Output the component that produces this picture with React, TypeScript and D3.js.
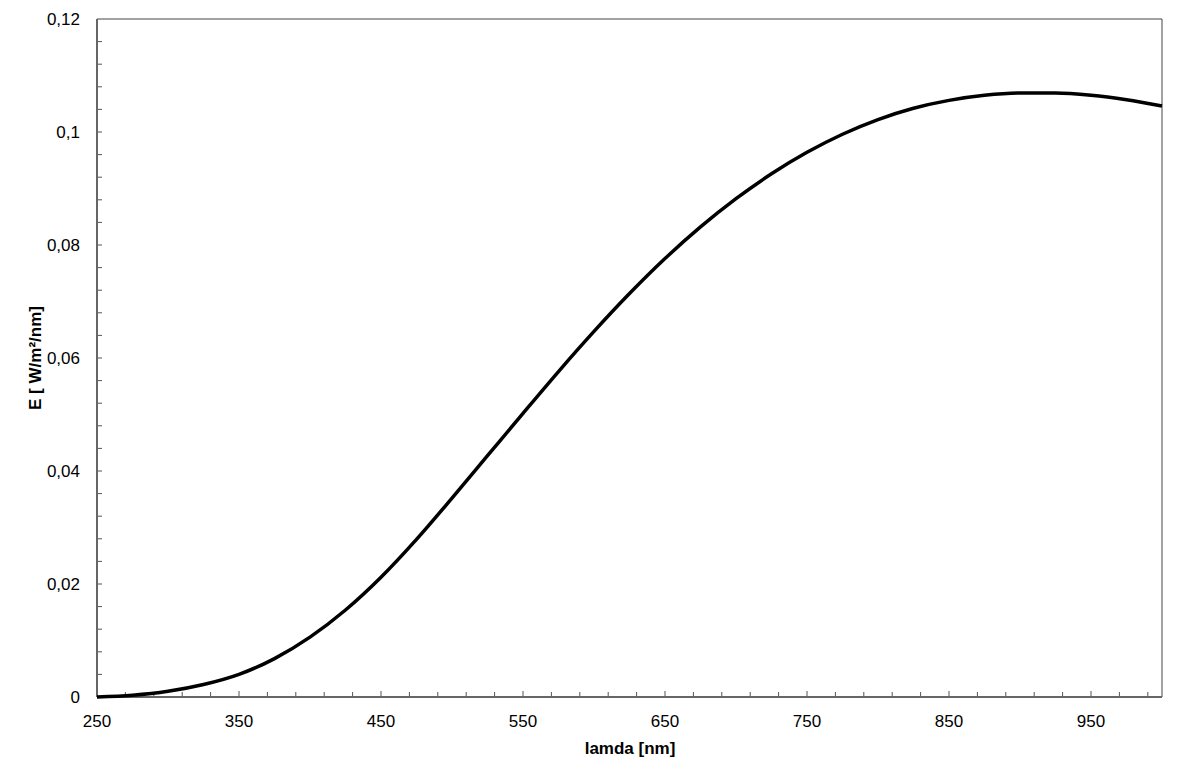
import React from "react";
import * as d3 from "d3";

const wavelengths = [250, 275, 300, 325, 350, 375, 400, 425, 450, 475, 500, 525, 550, 575, 600, 625, 650, 675, 700, 725, 750, 775, 800, 825, 850, 875, 900, 925, 950, 975, 1000];
const irradiance = [0, 0.0003, 0.001, 0.0022, 0.004, 0.0068, 0.0106, 0.0154, 0.0212, 0.0279, 0.0352, 0.0427, 0.0502, 0.0576, 0.0647, 0.0714, 0.0776, 0.0832, 0.0882, 0.0926, 0.0964, 0.0996, 0.1022, 0.1042, 0.1056, 0.1065, 0.1069, 0.1069, 0.1065, 0.1057, 0.1046];
const xTickLabels = [250, 350, 450, 550, 650, 750, 850, 950];
const yTickLabels = [0, 0.02, 0.04, 0.06, 0.08, 0.1, 0.12];

const W = 1200, H = 776;
const L = 97, R = 1162, T = 19, B = 697;

export default function App() {
  const x = d3.scaleLinear().domain([250, 1000]).range([L, R]);
  const y = d3.scaleLinear().domain([0, 0.12]).range([B, T]);
  const pts = wavelengths.map((w, i) => [w, irradiance[i]] as [number, number]);
  const line = d3.line<[number, number]>().x(d => x(d[0])).y(d => y(d[1])).curve(d3.curveMonotoneX);
  const minorX = d3.range(250, 1000, 20);
  const minorY = d3.range(0, 30).map(i => i * 0.004);
  const fmt = (v: number) => (v === 0 ? "0" : String(+v.toFixed(2)).replace(".", ","));
  const font = "'Liberation Sans', Arial, sans-serif";
  return (
    <svg width={W} height={H} style={{ position: "absolute", left: 0, top: 0, background: "#fff" }}>
      <rect x={0} y={0} width={W} height={H} fill="#fff" />
      {minorY.map((v, i) => (
        <line key={"yt" + i} x1={L} x2={L + 5} y1={y(v)} y2={y(v)} stroke="#555" strokeWidth={1} />
      ))}
      {minorX.map((v, i) => (
        <line key={"xt" + i} x1={x(v)} x2={x(v)} y1={B} y2={B - ((v - 250) % 100 === 0 ? 6 : 5)} stroke="#555" strokeWidth={1} />
      ))}
      <line x1={L} x2={R} y1={T} y2={T} stroke="#444" strokeWidth={1} />
      <line x1={R} x2={R} y1={T} y2={B} stroke="#444" strokeWidth={1} />
      <line x1={L} x2={L} y1={T} y2={B} stroke="#666" strokeWidth={2} />
      <line x1={L} x2={R} y1={B} y2={B} stroke="#666" strokeWidth={2} />
      <path d={line(pts) || ""} fill="none" stroke="#000" strokeWidth={3.5} strokeLinejoin="round" />
      {yTickLabels.map((v, i) => (
        <text key={"yl" + i} x={80} y={y(v)} dy="0.36em" textAnchor="end" fontFamily={font} fontSize={17} fill="#000">{fmt(v)}</text>
      ))}
      {xTickLabels.map((v, i) => (
        <text key={"xl" + i} x={x(v)} y={727} textAnchor="middle" fontFamily={font} fontSize={17} fill="#000">{v}</text>
      ))}
      <text x={630} y={754} textAnchor="middle" fontFamily={font} fontSize={17} fontWeight="bold" fill="#000">lamda  [nm]</text>
      <text transform={`translate(41,358) rotate(-90)`} textAnchor="middle" fontFamily={font} fontSize={17} fontWeight="bold" fill="#000">E [ W/m²/nm]</text>
    </svg>
  );
}
